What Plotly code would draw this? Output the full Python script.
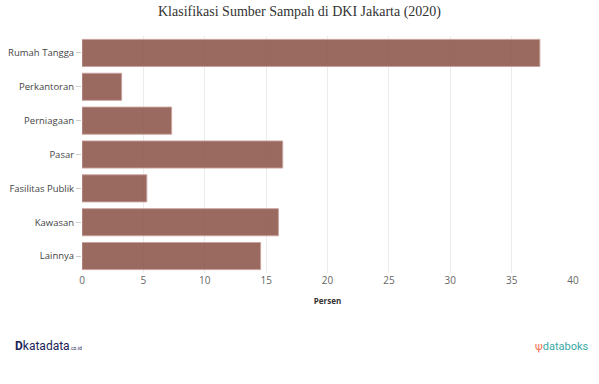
import plotly.graph_objects as go

categories = ["Rumah Tangga", "Perkantoran", "Perniagaan", "Pasar", "Fasilitas Publik", "Kawasan", "Lainnya"]
values = [37.3, 3.23, 7.3, 16.35, 5.28, 16.0, 14.55]
x_ticks = [0, 5, 10, 15, 20, 25, 30, 35, 40]

fig = go.Figure(go.Bar(
    y=categories, x=values, orientation="h",
    marker=dict(color="rgba(140,85,75,0.88)", line=dict(color="rgba(200,160,155,0.9)", width=1)),
    hoverinfo="x+y",
))

fig.update_layout(
    width=599, height=384,
    margin=dict(l=82, r=26, t=36, b=111, autoexpand=False),
    paper_bgcolor="white", plot_bgcolor="white",
    bargap=0.2,
    showlegend=False,
    title=dict(text="Klasifikasi Sumber Sampah di DKI Jakarta (2020)",
               x=0.5, xanchor="center", y=0.985, yanchor="top",
               font=dict(family="Liberation Serif, Times New Roman, serif", size=14, color="#333333")),
    xaxis=dict(range=[0, 40], tickvals=x_ticks, showgrid=True, gridcolor="#ececec", gridwidth=1,
               zeroline=False, showline=False, ticks="", automargin=False,
               tickfont=dict(family="Open Sans, Verdana, sans-serif", size=10, color="#666666"),
               title=dict(text="<b>Persen</b>", standoff=12,
                          font=dict(family="Open Sans, Verdana, sans-serif", size=8, color="#333333"))),
    yaxis=dict(autorange="reversed", ticks="outside", ticklen=5, tickcolor="#cccccc",
               showgrid=False, showline=False, automargin=False,
               tickfont=dict(family="Open Sans, Verdana, sans-serif", size=9.5, color="#444444")),
    annotations=[
        dict(text="<b>D</b>katadata<span style='font-size:5px'>.co.id</span>", xref="paper", yref="paper",
             x=-0.14, y=-0.31, xanchor="left", yanchor="middle", showarrow=False,
             font=dict(family="Roboto, Arial, sans-serif", size=12, color="#1c2257")),
        dict(text="<span style='color:#f26b4f'>ψ</span>databoks", xref="paper", yref="paper",
             x=1.035, y=-0.31, xanchor="right", yanchor="middle", showarrow=False,
             font=dict(family="Roboto, Arial, sans-serif", size=11, color="#3aa9a6")),
    ],
)

fig.write_html("out.html", config={"displayModeBar": False},
               post_script="document.body.style.margin='0';")
